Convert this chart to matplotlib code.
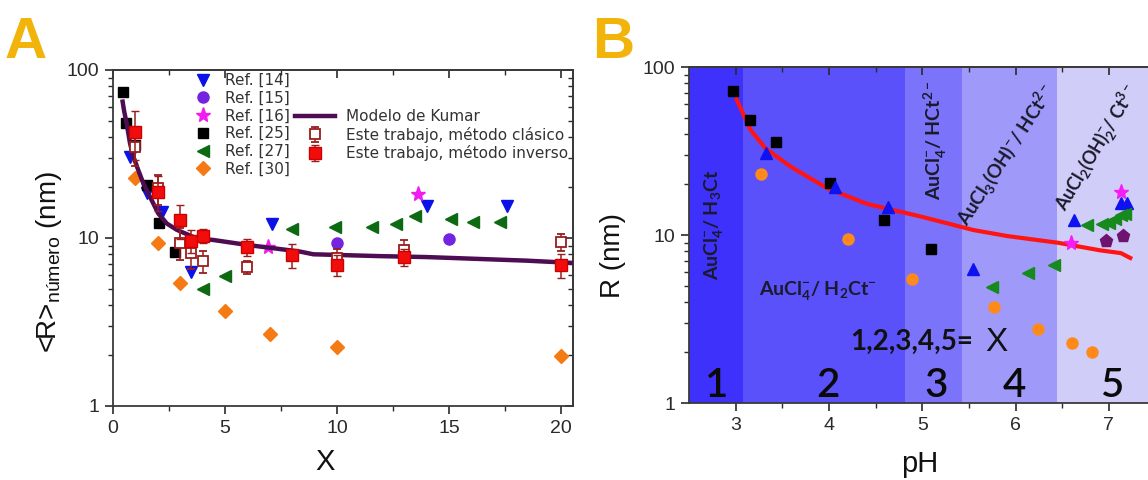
import matplotlib
matplotlib.use('Agg')
import matplotlib.pyplot as plt
from matplotlib.ticker import FixedLocator, NullFormatter

# ---------------- Panel A data (X vs <R> número, nm) ----------------
ref14_x = [0.76, 1.5, 2.17, 3.5, 7.1, 14.0, 17.6]
ref14_y = [30.5, 18.5, 14.3, 6.3, 12.1, 15.4, 15.4]
ref15_x = [10.0, 15.0]
ref15_y = [9.3, 9.8]
ref16_x = [6.9, 13.6]
ref16_y = [8.8, 18.3]
ref25_x = [0.45, 0.6, 1.0, 1.5, 2.05, 2.75]
ref25_y = [73.5, 48.5, 36.0, 20.7, 12.2, 8.3]
ref27_x = [4.0, 5.0, 8.0, 9.9, 11.55, 12.65, 13.5, 15.1, 16.05, 17.25]
ref27_y = [4.95, 5.9, 11.3, 11.6, 11.7, 12.1, 13.5, 12.9, 12.5, 12.5]
ref30_x = [1.0, 2.0, 3.0, 5.0, 7.0, 10.0, 20.0]
ref30_y = [22.7, 9.4, 5.4, 3.7, 2.7, 2.25, 1.98]
kumar_x = [0.43, 0.49, 0.61, 0.76, 0.91, 1.13, 1.35, 1.65, 2.02, 2.4, 2.84,
           3.73, 4.48, 5.97, 8.35, 8.94, 11.92, 14.0, 18.47, 20.55]
kumar_y = [64.8, 57.6, 48.0, 36.6, 30.5, 25.3, 21.2, 17.6, 14.0, 12.2, 11.2,
           9.95, 9.73, 9.1, 8.3, 8.0, 7.8, 7.7, 7.33, 7.1]
clasico_x = [1.0, 2.0, 3.0, 3.5, 4.0, 6.0, 10.0, 13.0, 20.0]
clasico_y = [34.7, 19.8, 9.4, 8.1, 7.3, 6.7, 7.6, 8.5, 9.5]
clasico_err = [8.0, 4.0, 2.0, 1.6, 1.1, 0.6, 1.0, 1.2, 1.1]
inverso_x = [1.0, 2.0, 3.0, 3.5, 4.0, 6.0, 8.0, 10.0, 13.0, 20.0]
inverso_y = [43.0, 18.9, 12.8, 9.6, 10.3, 8.8, 7.9, 6.9, 7.7, 6.9]
inverso_err = [14.0, 4.5, 3.0, 1.5, 1.0, 1.0, 1.3, 1.0, 0.9, 1.1]

# ---------------- Panel B data (pH vs R, nm) ----------------
b25_ph = [2.97, 3.15, 3.43, 4.01, 4.59, 5.09]
b25_r = [72.3, 48.4, 35.9, 20.5, 12.2, 8.3]
b14_ph = [3.33, 4.07, 4.63, 5.54, 6.63, 7.13, 7.19]
b14_r = [30.9, 19.4, 14.7, 6.3, 12.3, 15.4, 15.4]
b16_ph = [6.59, 7.13]
b16_r = [9.0, 18.1]
b15_ph = [6.97, 7.15]
b15_r = [9.25, 9.8]
b27_ph = [5.75, 6.13, 6.41, 6.77, 6.93, 7.0, 7.07, 7.13, 7.17]
b27_r = [4.93, 5.97, 6.6, 11.4, 11.6, 11.8, 12.5, 13.1, 13.4]
b30_ph = [3.27, 4.2, 4.89, 5.77, 6.24, 6.6, 6.82]
b30_r = [23.0, 9.47, 5.45, 3.71, 2.75, 2.27, 2.0]
fit_ph = [3.01, 3.16, 3.32, 3.59, 3.98, 4.41, 4.98, 5.2, 5.55, 5.91, 6.45, 6.91, 7.13, 7.23]
fit_r = [64.2, 42.2, 32.8, 25.5, 19.0, 15.3, 12.9, 12.0, 10.7, 9.86, 9.0, 8.1, 7.8, 7.3]
region_edges = [2.5, 3.08, 4.82, 5.43, 6.44, 7.42]
region_colors = ['#3e31fc', '#5a51fb', '#7b74fa', '#9f9afa', '#d0cef8']
region_labels = ['1', '2', '3', '4', '5']
region_label_x = [2.79, 3.99, 5.15, 5.99, 7.03]

plt.rcParams['font.family'] = ['Liberation Sans', 'DejaVu Sans']
plt.rcParams['mathtext.fontset'] = 'custom'
plt.rcParams['mathtext.rm'] = 'Liberation Sans'
plt.rcParams['mathtext.bf'] = 'Lato:bold'

W, H = 1148, 480
fig = plt.figure(figsize=(W / 100, H / 100), dpi=100)


def px_rect(l, r, t, b):
    return [l / W, 1 - b / H, (r - l) / W, (b - t) / H]


def fpos(x, y):
    return (x / W, 1 - y / H)


SPINE = '#3a3a3a'
TICKC = '#2a2a2a'


def style_axes(ax, xmajor, xminor, show_right=True):
    ax.set_yscale('log')
    ax.set_ylim(1, 100)
    ax.set_yticks([1, 10, 100])
    ax.set_yticklabels(['1', '10', '100'])
    yminor = [m * d for d in (1, 10) for m in range(2, 10)]
    ax.yaxis.set_minor_locator(FixedLocator(yminor))
    ax.yaxis.set_minor_formatter(NullFormatter())
    ax.set_xticks(xmajor)
    ax.set_xticklabels([('%g' % v) for v in xmajor])
    ax.xaxis.set_minor_locator(FixedLocator(xminor))
    ax.tick_params(which='major', direction='out', length=6, width=1.2,
                   labelsize=14, colors=TICKC, pad=4)
    ax.tick_params(which='minor', direction='out', length=3.5, width=1.0,
                   colors=TICKC)
    for s in ax.spines.values():
        s.set_color(SPINE)
        s.set_linewidth(1.3)
    top = ax.secondary_xaxis('top')
    top.set_xticks(xmajor)
    top.xaxis.set_minor_locator(FixedLocator(xminor))
    top.tick_params(which='major', direction='in', length=6, width=1.2,
                    labeltop=False, colors=TICKC)
    top.tick_params(which='minor', direction='in', length=3.5, width=1.0,
                    labeltop=False, colors=TICKC)
    top.spines['top'].set_color(SPINE)
    top.spines['top'].set_linewidth(1.3)
    if show_right:
        right = ax.secondary_yaxis('right')
        right.set_yticks([1, 10, 100])
        right.yaxis.set_minor_locator(FixedLocator(yminor))
        right.tick_params(which='major', direction='in', length=6, width=1.2,
                          labelright=False, colors=TICKC)
        right.tick_params(which='minor', direction='in', length=3.5, width=1.0,
                          labelright=False, colors=TICKC)
        right.spines['right'].set_color(SPINE)
        right.spines['right'].set_linewidth(1.3)
    else:
        ax.spines['right'].set_visible(False)


# ======================= Panel A =======================
axA = fig.add_axes(px_rect(113, 573, 70, 406))
axA.set_xlim(0, 20.53)

h14, = axA.plot(ref14_x, ref14_y, 'v', color='#0a12e8', ms=8, ls='none', label='Ref. [14]')
h15, = axA.plot(ref15_x, ref15_y, 'o', color='#7424e0', ms=8, ls='none', label='Ref. [15]')
h16, = axA.plot(ref16_x, ref16_y, '*', color='#f01cf0', ms=11, ls='none', label='Ref. [16]')
h25, = axA.plot(ref25_x, ref25_y, 's', color='black', ms=7.5, ls='none', label='Ref. [25]')
h27, = axA.plot(ref27_x, ref27_y, '<', color='#0e6a12', ms=9, ls='none', label='Ref. [27]')
h30, = axA.plot(ref30_x, ref30_y, 'D', color='#f57a14', ms=7, ls='none', label='Ref. [30]')
hk, = axA.plot(kumar_x, kumar_y, '-', color='#4e0c52', lw=3.2, label='Modelo de Kumar',
               zorder=3)
ec = axA.errorbar(clasico_x, clasico_y, yerr=clasico_err, fmt='s', mfc='white',
                  mec='#9a1d1d', ecolor='#9a1d1d', ms=7.5, capsize=3, elinewidth=1.1,
                  mew=1.3, zorder=4, label='Este trabajo, método clásico')
ei = axA.errorbar(inverso_x, inverso_y, yerr=inverso_err, fmt='s', color='#f20d0d',
                  mec='#d00000', ecolor='#9a1d1d', ms=8, capsize=3, elinewidth=1.1,
                  zorder=5, label='Este trabajo, método inverso')

style_axes(axA, [0, 5, 10, 15, 20], [2.5, 7.5, 12.5, 17.5])

legfont = {'family': 'DejaVu Sans', 'size': 11}
leg1 = axA.legend(handles=[h14, h15, h16, h25, h27, h30], loc='upper left',
                  bbox_to_anchor=(0.176, 0.991), frameon=False, prop=legfont,
                  handlelength=1.2, handletextpad=0.8, labelspacing=0.18,
                  borderpad=0, borderaxespad=0, numpoints=1)
for t in leg1.get_texts():
    t.set_color('#333333')
axA.add_artist(leg1)
leg2 = axA.legend(handles=[hk, ec, ei], loc='upper left',
                  bbox_to_anchor=(0.396, 0.884), frameon=False, prop=legfont,
                  handlelength=2.6, handletextpad=0.75, labelspacing=0.18,
                  borderpad=0, borderaxespad=0, numpoints=1)
for t in leg2.get_texts():
    t.set_color('#333333')

fig.text(*fpos(325, 462), 'X', fontsize=21, ha='center', va='center', color='#111111')
fig.text(*fpos(49, 262), r'<R>$_{\mathrm{número}}$ (nm)', fontsize=20, rotation=90,
         ha='center', va='center', color='#111111')
fig.text(*fpos(26, 42.5), 'A', fontsize=42, fontweight='bold', color='#f2b40a',
         ha='center', va='center')

# ======================= Panel B =======================
axB = fig.add_axes(px_rect(689, 1148, 67, 403))
axB.set_xlim(region_edges[0], region_edges[-1])
for i in range(len(region_colors)):
    axB.axvspan(region_edges[i], region_edges[i + 1], color=region_colors[i],
                lw=0, zorder=0)

axB.plot(fit_ph, fit_r, '-', color='#ff1414', lw=3, zorder=3)
axB.plot(b25_ph, b25_r, 's', color='black', ms=7.5, ls='none', zorder=4)
axB.plot(b14_ph, b14_r, '^', color='#0f12f0', ms=8, ls='none', zorder=4)
axB.plot(b30_ph, b30_r, 'o', color='#ff8a1c', ms=8, ls='none', zorder=4)
axB.plot(b27_ph, b27_r, '<', color='#168a1c', ms=9, ls='none', zorder=4)
axB.plot(b15_ph, b15_r, 'p', color='#6e1470', ms=9.5, ls='none', zorder=4)
axB.plot(b16_ph, b16_r, '*', color='#f51cf5', ms=11, ls='none', zorder=5)

style_axes(axB, [3, 4, 5, 6, 7], [3.5, 4.5, 5.5, 6.5], show_right=False)

ann = dict(fontfamily=['Lato', 'DejaVu Sans'], fontweight='bold', color='#1a1a2a',
           ha='center', va='center')
axB.text(2.77, 11.6, r'AuCl$_\mathbf{4}^\mathbf{-}$/ H$_\mathbf{3}$Ct', rotation=90,
         fontsize=14, **ann)
axB.text(3.88, 4.6, r'AuCl$_\mathbf{4}^\mathbf{-}$/ H$_\mathbf{2}$Ct$^\mathbf{-}$',
         fontsize=14, **ann)
axB.text(5.14, 36.5, r'AuCl$_\mathbf{4}^\mathbf{-}$/ HCt$^\mathbf{2-}$', rotation=90,
         fontsize=14, **ann)
axB.text(5.90, 29.9, r'AuCl$_\mathbf{3}$(OH)$^\mathbf{-}$/ HCt$^\mathbf{2-}$',
         rotation=57, rotation_mode='anchor', fontsize=13.5, **ann)
axB.text(6.88, 33.0, r'AuCl$_\mathbf{2}$(OH)$_\mathbf{2}^\mathbf{-}$/ Ct$^\mathbf{3-}$',
         rotation=59, rotation_mode='anchor', fontsize=13, **ann)

axB.text(5.545, 2.3, '1,2,3,4,5=', fontsize=20, fontfamily=['Lato', 'DejaVu Sans'],
         fontweight='bold', color='#111111', ha='right', va='center')
axB.text(5.68, 2.3, 'X', fontsize=24, color='#111111', ha='left', va='center')
for lx, lab in zip(region_label_x, region_labels):
    axB.text(lx, 1.08, lab, fontsize=29, fontfamily=['Lato', 'DejaVu Sans'],
             fontweight='semibold', color='#0a0a0a', ha='center', va='baseline')

fig.text(*fpos(920, 464), 'pH', fontsize=21, ha='center', va='center', color='#111111')
fig.text(*fpos(613, 255), 'R (nm)', fontsize=20, rotation=90, ha='center', va='center',
         color='#111111')
fig.text(*fpos(613, 42.5), 'B', fontsize=42, fontweight='bold', color='#f2b40a',
         ha='center', va='center')

fig.savefig('out.png', dpi=100)
